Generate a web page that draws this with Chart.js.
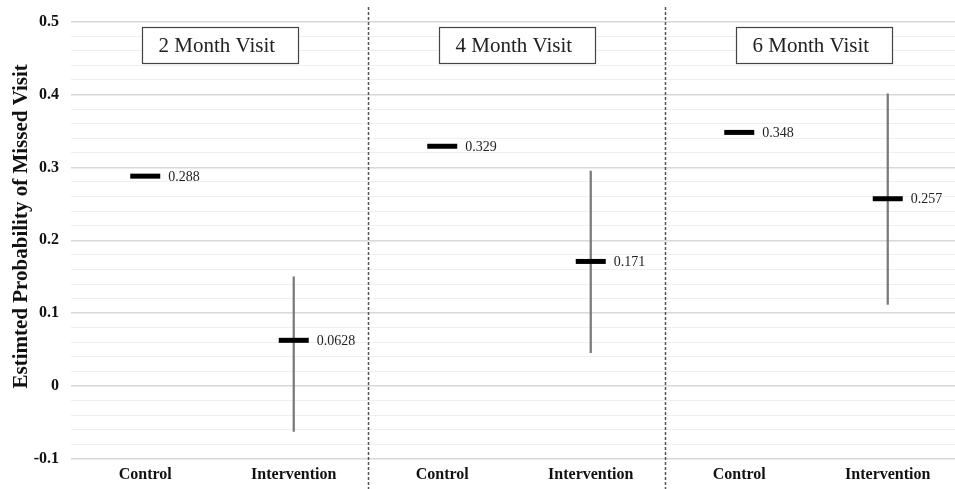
<!DOCTYPE html>
<html>
<head>
<meta charset="utf-8">
<script src="https://cdn.jsdelivr.net/npm/chart.js@4/dist/chart.umd.min.js"></script>
<style>
  html, body { margin: 0; padding: 0; background: #fff; overflow: hidden; }
  #wrap { width: 962px; height: 489px; }
</style>
</head>
<body>
<div id="wrap"><canvas id="chart" width="962" height="489"></canvas></div>
<script>
// Groups along the x axis: each visit has a Control and an Intervention column
const categories = ['Control', 'Intervention', 'Control', 'Intervention', 'Control', 'Intervention'];
const visitTitles = ['2 Month Visit', '4 Month Visit', '6 Month Visit'];

// Estimated probability of a missed visit, one per column
const means = [0.288, 0.0628, 0.329, 0.171, 0.348, 0.257];

// Interval limits (shown for the intervention columns only)
const ciLow  = [null, -0.062, null, 0.046, null, 0.112];
const ciHigh = [null, 0.150, null, 0.295, null, 0.401];

// Value axis
const yMin = -0.1;
const yMax = 0.5;
const yMinorStep = 0.02;
const yTitle = 'Estimted Probability of Missed Visit';

const SERIF = '"Liberation Serif", "Times New Roman", serif';

const isMajor = v => Math.abs(v * 10 - Math.round(v * 10)) < 1e-6;

// Value labels to the right of each mean marker
const valueLabels = {
  id: 'valueLabels',
  afterDatasetsDraw(chart) {
    const { ctx } = chart;
    const meta = chart.getDatasetMeta(1);
    ctx.save();
    ctx.font = '14px ' + SERIF;
    ctx.fillStyle = '#222';
    ctx.textAlign = 'left';
    ctx.textBaseline = 'middle';
    meta.data.forEach((pt, i) => {
      ctx.fillText(String(means[i]), pt.x + 23, pt.y + 1);
    });
    ctx.restore();
  }
};

// Dashed separators between visits, a boxed title over each visit,
// and the rotated value-axis title
const visitPanels = {
  id: 'visitPanels',
  afterDraw(chart) {
    const { ctx, scales: { x, y } } = chart;
    ctx.save();
    // separators
    ctx.strokeStyle = '#555';
    ctx.lineWidth = 1.5;
    ctx.setLineDash([3, 2]);
    for (let k = 1; k < visitTitles.length; k++) {
      const px = Math.round(x.getPixelForValue(2 * k - 0.5)) + 0.5;
      ctx.beginPath();
      ctx.moveTo(px, 7);
      ctx.lineTo(px, chart.height);
      ctx.stroke();
    }
    ctx.setLineDash([]);
    // boxed titles
    ctx.font = '21px ' + SERIF;
    ctx.textBaseline = 'middle';
    ctx.textAlign = 'left';
    visitTitles.forEach((t, k) => {
      const cx = x.getPixelForValue(2 * k + 0.5);
      const w = 156, h = 36;
      const left = Math.round(cx - w / 2) + 0.5;
      const top = Math.round(y.getPixelForValue(yMax)) + 5.5;
      ctx.fillStyle = '#fff';
      ctx.fillRect(left, top, w, h);
      ctx.strokeStyle = '#444';
      ctx.lineWidth = 1.2;
      ctx.strokeRect(left, top, w, h);
      ctx.fillStyle = '#222';
      ctx.fillText(t, left + 16, top + h / 2 + 1);
    });
    // axis title
    ctx.font = 'bold 21px ' + SERIF;
    ctx.fillStyle = '#111';
    ctx.textAlign = 'center';
    ctx.textBaseline = 'middle';
    ctx.translate(22, (y.getPixelForValue(yMax) + y.getPixelForValue(yMin)) / 2 - 14);
    ctx.rotate(-Math.PI / 2);
    ctx.fillText(yTitle, 0, 0);
    ctx.restore();
  }
};

new Chart(document.getElementById('chart'), {
  data: {
    labels: categories,
    datasets: [
      {
        type: 'bar',
        label: 'Interval',
        data: ciLow.map((lo, i) => (lo === null ? null : [lo, ciHigh[i]])),
        backgroundColor: '#7a7a7a',
        borderWidth: 0,
        barThickness: 1.6,
        order: 2
      },
      {
        type: 'line',
        label: 'Estimate',
        data: means,
        showLine: false,
        pointStyle: 'line',
        pointRadius: 15,
        pointHoverRadius: 15,
        borderColor: '#000',
        backgroundColor: '#000',
        pointBorderWidth: 5,
        clip: false,
        order: 1
      }
    ]
  },
  options: {
    responsive: false,
    animation: false,
    events: [],
    layout: { autoPadding: false, padding: { top: 20, right: 0, bottom: 0, left: 0 } },
    plugins: {
      legend: { display: false },
      tooltip: { enabled: false }
    },
    scales: {
      x: {
        type: 'category',
        offset: true,
        grid: { display: false, drawTicks: false },
        border: { display: false },
        ticks: {
          padding: 6,
          color: '#111',
          font: { family: SERIF, size: 16, weight: 'bold' }
        },
        afterFit(scale) {
          scale.height = 30;
          scale.paddingLeft = 0;
          scale.paddingRight = 0;
        }
      },
      y: {
        min: yMin,
        max: yMax,
        grid: {
          drawTicks: false,
          color: ctx => (isMajor(ctx.tick.value) ? '#d8d8d8' : '#efefef'),
          lineWidth: ctx => (isMajor(ctx.tick.value) ? 1.5 : 1)
        },
        border: { display: false },
        ticks: {
          stepSize: yMinorStep,
          autoSkip: false,
          padding: 12,
          color: '#111',
          font: { family: SERIF, size: 16, weight: 'bold' },
          callback: v => (isMajor(v) ? String(Math.round(v * 10) / 10) : '')
        },
        afterFit(scale) { scale.width = 71; }
      }
    }
  },
  plugins: [valueLabels, visitPanels]
});
</script>
</body>
</html>
